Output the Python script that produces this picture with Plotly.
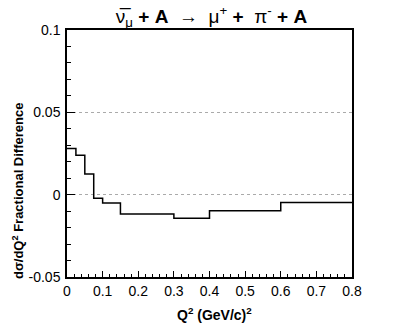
import plotly.graph_objects as go

# Q^2 bin edges (GeV/c)^2 and fractional difference per bin
bin_edges = [0.0, 0.025, 0.05, 0.075, 0.1, 0.15, 0.3, 0.4, 0.6, 0.8]
frac_diff = [0.028, 0.024, 0.0125, -0.0022, -0.005, -0.0117, -0.0143, -0.0097, -0.0047]

x_tick_vals = [0, 0.1, 0.2, 0.3, 0.4, 0.5, 0.6, 0.7, 0.8]
x_tick_text = ["0", "0.1", "0.2", "0.3", "0.4", "0.5", "0.6", "0.7", "0.8"]
y_tick_vals = [-0.05, 0, 0.05, 0.1]
y_tick_text = ["-0.05", "0", "0.05", "0.1"]

FONT = "Liberation Sans, Arial, Helvetica, sans-serif"

fig = go.Figure()
fig.add_trace(go.Scatter(
    x=bin_edges,
    y=frac_diff + [frac_diff[-1]],
    mode="lines",
    line=dict(color="black", width=1.5, shape="hv"),
    showlegend=False,
    hoverinfo="skip",
))

# page body adds an 8px offset, margins compensate for it
fig.update_layout(
    width=407, height=328,
    margin=dict(l=59, r=63, t=22, b=59),
    paper_bgcolor="white",
    plot_bgcolor="white",
    font=dict(family=FONT, color="black", size=14),
    title=dict(
        text="ν̅<sub>μ</sub> <b>+ A</b>  →  μ<sup>+</sup><b> + </b> π<sup>-</sup> <b>+ A</b>",
        x=0.5, xanchor="center", y=0.975, yanchor="middle",
        font=dict(size=19, family=FONT),
        automargin=False,
    ),
    xaxis=dict(
        range=[0, 0.8],
        tickvals=x_tick_vals, ticktext=x_tick_text,
        ticks="inside", ticklen=6, tickcolor="black",
        minor=dict(ticks="inside", ticklen=3, dtick=0.02, tickcolor="black", showgrid=False),
        showline=True, linecolor="black", linewidth=1.5, mirror=True,
        showgrid=False, zeroline=False, automargin=False,
    ),
    yaxis=dict(
        range=[-0.05, 0.1],
        tickvals=y_tick_vals, ticktext=y_tick_text,
        ticks="inside", ticklen=8, tickcolor="black", ticklabelstandoff=2,
        minor=dict(ticks="inside", ticklen=4, dtick=0.01, tick0=0, tickcolor="black", showgrid=False),
        showline=True, linecolor="black", linewidth=1.5, mirror=True,
        showgrid=True, gridcolor="#aaaaaa", griddash="dot", gridwidth=1,
        zeroline=False, automargin=False,
    ),
)

fig.add_annotation(
    text="<b>Q<sup>2</sup> (GeV/c)<sup>2</sup></b>",
    xref="paper", yref="paper", x=0.516, y=-0.15,
    xanchor="center", yanchor="middle", showarrow=False,
    font=dict(size=14),
)
fig.add_annotation(
    text="<b>dσ/dQ<sup>2</sup> Fractional Difference</b>",
    xref="paper", yref="paper", x=-0.172, y=0.352,
    xanchor="center", yanchor="middle", showarrow=False,
    textangle=-90, font=dict(size=13),
)

fig.write_html("out.html")
